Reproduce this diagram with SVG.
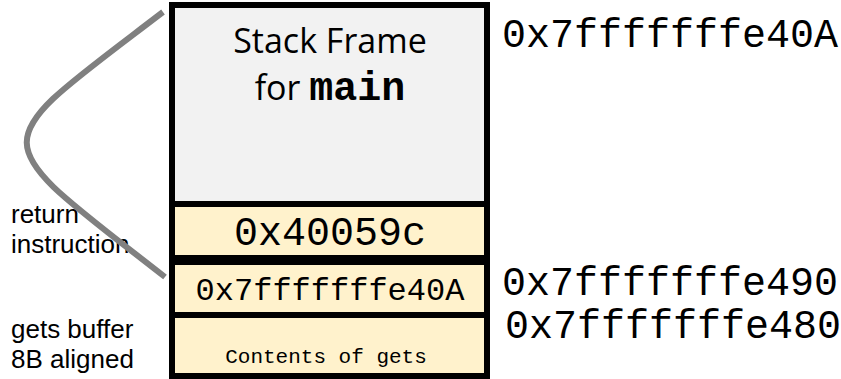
<svg xmlns="http://www.w3.org/2000/svg" width="841" height="379" viewBox="0 0 841 379">
  <style>
    .cell-frame { fill: #f2f2f2; }
    .cell-data { fill: #fff2cc; }
    .edge { stroke: #000; fill: none; }
    .mono { font-family: "Liberation Mono", "Courier New", monospace; fill: #000; }
    .sans { font-family: "Liberation Sans", Arial, sans-serif; font-size: 26px; fill: #000; }
    .title { font-family: "Open Sans", "Noto Sans", sans-serif; font-size: 34px; fill: #000; }
    .link { stroke: #808080; stroke-width: 6; fill: none; }
  </style>

  <!-- stack cells -->
  <g id="frame-main">
    <rect class="cell-frame" x="172" y="5" width="315" height="199"/>
    <text class="title" x="330" y="53" text-anchor="middle">Stack Frame</text>
    <text class="title" x="330" y="100" text-anchor="middle">for <tspan class="mono" font-weight="bold" font-size="40">main</tspan></text>
  </g>

  <g id="return-address">
    <rect class="cell-data" x="172" y="204" width="315" height="56"/>
    <text class="mono" font-size="40" x="330" y="245" text-anchor="middle">0x40059c</text>
  </g>

  <g id="saved-value">
    <rect class="cell-data" x="172" y="260" width="315" height="55"/>
    <text class="mono" font-size="32" x="330" y="300" text-anchor="middle">0x7fffffffe40A</text>
  </g>

  <g id="gets-buffer">
    <rect class="cell-data" x="172" y="315" width="315" height="61"/>
    <text class="mono" font-size="21" x="326" y="363" text-anchor="middle">Contents of gets</text>
  </g>

  <!-- cell borders -->
  <g id="borders">
    <rect class="edge" x="172" y="5" width="315" height="371" stroke-width="6"/>
    <line class="edge" x1="172" y1="204" x2="487" y2="204" stroke-width="6"/>
    <line class="edge" x1="172" y1="260" x2="487" y2="260" stroke-width="10"/>
    <line class="edge" x1="172" y1="315" x2="487" y2="315" stroke-width="6"/>
  </g>

  <!-- addresses -->
  <g id="addresses">
    <text class="mono" font-size="40" x="502" y="47">0x7fffffffe40A</text>
    <text class="mono" font-size="40" x="502" y="295">0x7fffffffe490</text>
    <text class="mono" font-size="40" x="505" y="338">0x7fffffffe480</text>
  </g>

  <!-- side labels -->
  <g id="label-return">
    <text class="sans" x="11" y="223">return</text>
    <text class="sans" x="11" y="253">instruction</text>
  </g>
  <g id="label-buffer">
    <text class="sans" x="11" y="338">gets buffer</text>
    <text class="sans" x="11" y="368">8B aligned</text>
  </g>

  <!-- connectors -->
  <g id="connectors">
    <path class="link" d="M163,12 C-19,151 -19,133 165,277"/>
  </g>
</svg>
